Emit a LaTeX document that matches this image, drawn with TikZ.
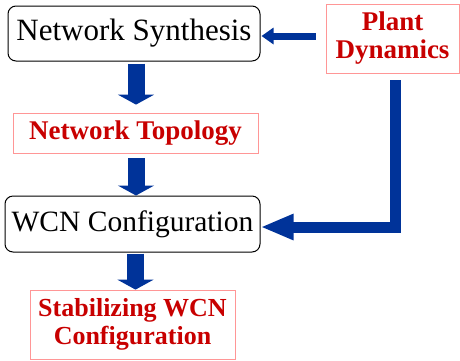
\documentclass[tikz,border=0pt]{standalone}
\usepackage{fontspec}
\setmainfont{Liberation Serif}
\usepackage{tikz}
\usetikzlibrary{arrows.meta, positioning}
\definecolor{flowblue}{RGB}{0,51,153}
\definecolor{darkred}{RGB}{200,0,0}
\definecolor{pinkline}{RGB}{255,150,150}
\tikzset{
    stepbox/.style={rectangle, rounded corners=8pt, draw=black, line width=1pt, inner sep=0pt, text centered, align=center},
    result/.style={rectangle, draw=pinkline, line width=0.8pt, inner sep=0pt, text=darkred, font=\bfseries, text centered, align=center},
    bigflow/.style={draw=flowblue, line width=17pt, -{Triangle[width=36pt, length=10pt]}},
    thinflow/.style={draw=flowblue, line width=7pt, -{Triangle[width=16pt, length=12pt]}},
    feedflow/.style={draw=flowblue, line width=11pt, -{Triangle[width=24pt, length=33pt]}}
}

\begin{document}
\begin{tikzpicture}[x=1pt, y=1pt]
    \useasboundingbox (0,0) rectangle (460,-360);

    % Boxes
    \node[stepbox, minimum width=252pt, minimum height=55pt, font=\fontsize{31}{34}\selectfont] (synth) at (134,-33.5) {Network Synthesis};
    \node[result, minimum width=133pt, minimum height=69pt, font=\fontsize{27}{28}\selectfont\bfseries] (plant) at (392.5,-38.5) {Plant\\Dynamics};
    \node[result, minimum width=245pt, minimum height=40pt, font=\fontsize{27}{30}\selectfont\bfseries] (topo) at (135.5,-133) {Network Topology};
    \node[stepbox, minimum width=255pt, minimum height=56pt, font=\fontsize{29.5}{34}\selectfont] (wcn) at (132.5,-224) {WCN Configuration};
    \node[result, minimum width=205pt, minimum height=69pt, font=\fontsize{26}{28}\selectfont\bfseries] (stab) at (132.5,-324.5) {Stabilizing WCN\\Configuration};

    % Arrows
    \draw[thinflow, shorten <=10pt, shorten >=1pt] (plant.west |- 0,-36) -- (synth.east |- 0,-36);
    \draw[bigflow, shorten <=2pt, shorten >=8pt] (synth.south -| 136,0) -- (topo.north -| 136,0);
    \draw[bigflow, shorten <=5pt] (topo.south -| 136,0) -- (wcn.north -| 136,0);
    \draw[bigflow, shorten <=1pt] (wcn.south -| 135.5,0) -- (stab.north -| 135.5,0);

    % Feedback from plant
    \coordinate (bend) at (395.5,-227);
    \draw[feedflow, shorten <=7pt] (plant.south -| bend) |- (wcn.east |- bend);
\end{tikzpicture}
\end{document}
